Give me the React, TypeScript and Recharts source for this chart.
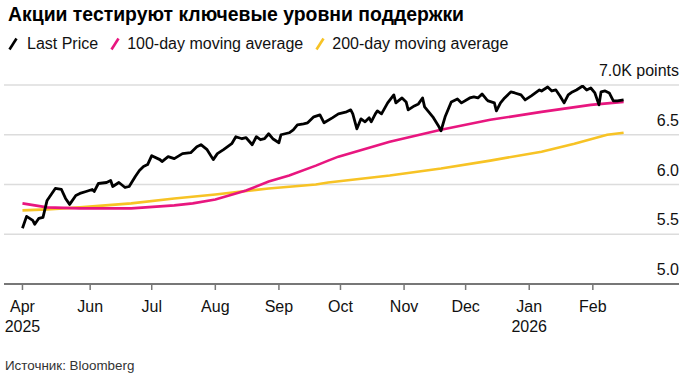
import React from "react";
import { LineChart, Line, XAxis, YAxis, CartesianGrid } from "recharts";

const FONT = '"Liberation Sans", Arial, Helvetica, sans-serif';

const TITLE = "Акции тестируют ключевые уровни поддержки";
const SOURCE = "Источник: Bloomberg";
const SERIES_NAMES = ["Last Price", "100-day moving average", "200-day moving average"];
const SERIES_COLORS = ["#000000", "#e8167f", "#f7c325"];

const priceDates = [
  "2025-04-29", "2025-05-01", "2025-05-04", "2025-05-05", "2025-05-07", "2025-05-09", "2025-05-11", "2025-05-13",
  "2025-05-15", "2025-05-18", "2025-05-20", "2025-05-22", "2025-05-25", "2025-05-27", "2025-05-30", "2025-06-02",
  "2025-06-03", "2025-06-05", "2025-06-09", "2025-06-11", "2025-06-12", "2025-06-15", "2025-06-18", "2025-06-20",
  "2025-06-23", "2025-06-25", "2025-06-27", "2025-06-29", "2025-07-01", "2025-07-05", "2025-07-06", "2025-07-09",
  "2025-07-12", "2025-07-16", "2025-07-20", "2025-07-23", "2025-07-25", "2025-07-28", "2025-07-31", "2025-08-02",
  "2025-08-05", "2025-08-07", "2025-08-09", "2025-08-11", "2025-08-14", "2025-08-16", "2025-08-19", "2025-08-21",
  "2025-08-23", "2025-08-25", "2025-08-27", "2025-08-29", "2025-09-01", "2025-09-02", "2025-09-06", "2025-09-08",
  "2025-09-10", "2025-09-13", "2025-09-15", "2025-09-18", "2025-09-21", "2025-09-23", "2025-09-27", "2025-09-30",
  "2025-10-04", "2025-10-06", "2025-10-07", "2025-10-09", "2025-10-11", "2025-10-13", "2025-10-15", "2025-10-16",
  "2025-10-18", "2025-10-19", "2025-10-21", "2025-10-24", "2025-10-27", "2025-10-28", "2025-10-31", "2025-11-02",
  "2025-11-03", "2025-11-06", "2025-11-08", "2025-11-10", "2025-11-11", "2025-11-13", "2025-11-15", "2025-11-18",
  "2025-11-19", "2025-11-21", "2025-11-24", "2025-11-27", "2025-11-29", "2025-12-03", "2025-12-05", "2025-12-07",
  "2025-12-09", "2025-12-11", "2025-12-12", "2025-12-15", "2025-12-16", "2025-12-18", "2025-12-20", "2025-12-23",
  "2025-12-25", "2025-12-28", "2025-12-30", "2026-01-02", "2026-01-04", "2026-01-06", "2026-01-07", "2026-01-10",
  "2026-01-12", "2026-01-14", "2026-01-16", "2026-01-18", "2026-01-20", "2026-01-22", "2026-01-24", "2026-01-27",
  "2026-01-29", "2026-01-31", "2026-02-02", "2026-02-04", "2026-02-05", "2026-02-07", "2026-02-09", "2026-02-11",
  "2026-02-13", "2026-02-16",
];
const priceValues = [
  5.56, 5.68, 5.64, 5.60, 5.66, 5.67, 5.84, 5.90,
  5.96, 5.95, 5.86, 5.80, 5.89, 5.91, 5.93, 5.95,
  5.93, 6.01, 6.02, 6.04, 5.98, 6.02, 5.97, 5.98,
  6.08, 6.14, 6.18, 6.20, 6.29, 6.25, 6.23, 6.28,
  6.26, 6.31, 6.32, 6.38, 6.40, 6.35, 6.25, 6.31,
  6.35, 6.38, 6.41, 6.48, 6.46, 6.47, 6.40, 6.48,
  6.45, 6.46, 6.51, 6.46, 6.42, 6.50, 6.52, 6.55,
  6.60, 6.61, 6.62, 6.68, 6.70, 6.62, 6.67, 6.71,
  6.73, 6.75, 6.71, 6.56, 6.66, 6.63, 6.67, 6.63,
  6.71, 6.74, 6.71, 6.82, 6.90, 6.82, 6.87, 6.83,
  6.75, 6.79, 6.81, 6.87, 6.78, 6.73, 6.68, 6.58,
  6.54, 6.68, 6.83, 6.86, 6.82, 6.87, 6.88, 6.87,
  6.91, 6.86, 6.84, 6.82, 6.74, 6.82, 6.87, 6.93,
  6.92, 6.90, 6.85, 6.89, 6.92, 6.95, 6.94, 6.98,
  6.94, 6.95, 6.89, 6.82, 6.90, 6.93, 6.95, 6.99,
  6.95, 6.97, 6.92, 6.80, 6.93, 6.94, 6.92, 6.84,
  6.84, 6.85,
];

const ma100Dates = [
  "2025-04-29", "2025-05-11", "2025-05-27", "2025-06-21", "2025-07-12", "2025-07-21", "2025-08-01", "2025-08-16",
  "2025-08-27", "2025-09-06", "2025-09-19", "2025-09-25", "2025-09-30", "2025-10-25", "2025-11-19", "2025-12-13",
  "2026-01-07", "2026-01-31", "2026-02-16",
];
const ma100Values = [
  5.81, 5.77, 5.76, 5.76, 5.79, 5.81, 5.85, 5.94,
  6.03, 6.09, 6.19, 6.24, 6.28, 6.43, 6.55, 6.65,
  6.73, 6.80, 6.83,
];

const ma200Dates = [
  "2025-04-29", "2025-05-11", "2025-05-27", "2025-06-21", "2025-07-12", "2025-08-01", "2025-08-27", "2025-09-19",
  "2025-09-25", "2025-10-25", "2025-11-19", "2025-12-13", "2026-01-07", "2026-01-23", "2026-02-08", "2026-02-16",
];
const ma200Values = [
  5.74, 5.75, 5.77, 5.81, 5.86, 5.90, 5.96, 6.00,
  6.02, 6.09, 6.16, 6.24, 6.33, 6.41, 6.50, 6.52,
];

const xTickDates = [
  "2025-04-29", "2025-06-01", "2025-07-01", "2025-08-01", "2025-09-01",
  "2025-10-01", "2025-11-01", "2025-12-01", "2026-01-01", "2026-02-01",
];
const xTickLabels = ["Apr", "Jun", "Jul", "Aug", "Sep", "Oct", "Nov", "Dec", "Jan", "Feb"];
const xTickYears = ["2025", "", "", "", "", "", "", "", "2026", ""];
const xDomainDates = ["2025-04-20", "2026-03-15"];

const yTicks = [5.0, 5.5, 6.0, 6.5, 7.0];
const yTopUnit = "K points";

const dayOf = (s: string) =>
  (Date.UTC(+s.slice(0, 4), +s.slice(5, 7) - 1, +s.slice(8, 10)) - Date.UTC(2025, 0, 1)) / 86400000;

const toRows = (dates: string[], values: number[]) =>
  dates.map((d, i) => ({ t: dayOf(d), v: values[i] }));

const priceData = toRows(priceDates, priceValues);
const ma100Data = toRows(ma100Dates, ma100Values);
const ma200Data = toRows(ma200Dates, ma200Values);
const xTicks = xTickDates.map(dayOf);

const XTick = (props: any) => {
  const { x, y, index } = props;
  return (
    <g>
      <text x={x} y={y + 22} textAnchor="middle" fontSize={16} fill="#111" fontFamily={FONT}>
        {xTickLabels[index]}
      </text>
      {xTickYears[index] ? (
        <text x={x} y={y + 42} textAnchor="middle" fontSize={16} fill="#111" fontFamily={FONT}>
          {xTickYears[index]}
        </text>
      ) : null}
    </g>
  );
};

const YTick = (props: any) => {
  const { x, y, payload } = props;
  const v = payload.value as number;
  const label = v === yTicks[yTicks.length - 1] ? v.toFixed(1) + yTopUnit : v.toFixed(1);
  return (
    <text x={x} y={y - 9} textAnchor="end" fontSize={16} fill="#111" fontFamily={FONT}>
      {label}
    </text>
  );
};

const Marker = ({ color }: { color: string }) => (
  <svg width={10} height={14} style={{ display: "block" }}>
    <line x1={1.5} y1={12.5} x2={8.5} y2={1.5} stroke={color} strokeWidth={2.6} strokeLinecap="butt" />
  </svg>
);

export default function App() {
  return (
    <div
      style={{
        position: "absolute",
        left: 0,
        top: 0,
        width: 686,
        height: 378,
        background: "#fff",
        overflow: "hidden",
        fontFamily: FONT,
      }}
    >
      <div style={{ position: "absolute", left: 0, top: 0 }}>
        <LineChart width={686} height={378} margin={{ top: 85, right: 6, bottom: 54, left: 4 }}>
          <CartesianGrid horizontal vertical={false} stroke="#dcdcdc" strokeWidth={1.3} />
          <XAxis
            type="number"
            dataKey="t"
            domain={[dayOf(xDomainDates[0]), dayOf(xDomainDates[1])]}
            ticks={xTicks}
            interval={0}
            height={40}
            axisLine={{ stroke: "#777", strokeWidth: 2 }}
            tickLine={{ stroke: "#777", strokeWidth: 1.5 }}
            tickSize={6}
            tickMargin={0}
            tick={<XTick />}
            allowDataOverflow
          />
          <YAxis
            orientation="right"
            domain={[5, 7]}
            ticks={yTicks}
            width={1}
            axisLine={false}
            tickLine={false}
            tickSize={0}
            tickMargin={0}
            tick={<YTick />}
            interval={0}
            allowDataOverflow
          />
          <Line
            data={ma200Data}
            dataKey="v"
            type="linear"
            stroke={SERIES_COLORS[2]}
            strokeWidth={2.6}
            dot={false}
            isAnimationActive={false}
          />
          <Line
            data={ma100Data}
            dataKey="v"
            type="linear"
            stroke={SERIES_COLORS[1]}
            strokeWidth={2.6}
            dot={false}
            isAnimationActive={false}
          />
          <Line
            data={priceData}
            dataKey="v"
            type="linear"
            stroke={SERIES_COLORS[0]}
            strokeWidth={2.8}
            strokeLinejoin="round"
            dot={false}
            isAnimationActive={false}
          />
        </LineChart>
      </div>
      <div
        style={{
          position: "absolute",
          left: 8,
          top: 3,
          fontSize: 19.4,
          fontWeight: 700,
          color: "#000",
          whiteSpace: "nowrap",
        }}
      >
        {TITLE}
      </div>
      <div
        style={{
          position: "absolute",
          left: 8,
          top: 35,
          display: "flex",
          alignItems: "center",
          fontSize: 16,
          color: "#111",
          whiteSpace: "nowrap",
        }}
      >
        {SERIES_NAMES.map((n, i) => (
          <div key={n} style={{ display: "flex", alignItems: "center", marginRight: 12 }}>
            <Marker color={SERIES_COLORS[i]} />
            <span style={{ marginLeft: i === 0 ? 9 : 7 }}>{n}</span>
          </div>
        ))}
      </div>
      <div
        style={{
          position: "absolute",
          left: 5,
          top: 358,
          fontSize: 13.4,
          color: "#333",
          whiteSpace: "nowrap",
        }}
      >
        {SOURCE}
      </div>
    </div>
  );
}
